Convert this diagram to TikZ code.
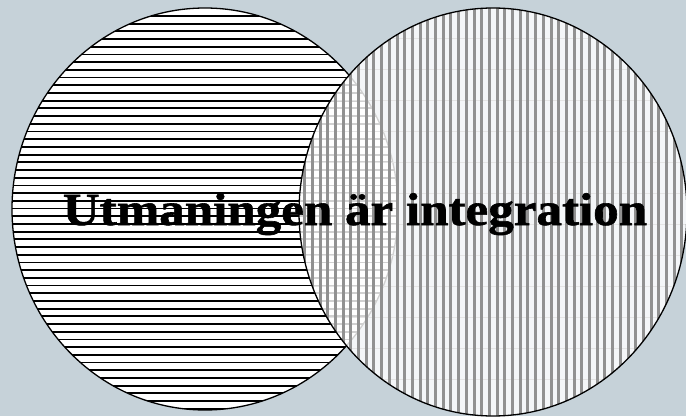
\documentclass[tikz,border=0pt]{standalone}
\usepackage{fontspec}
\setmainfont{Liberation Serif}
\newfontfamily\titlefont{Liberation Serif Bold}[FakeStretch=1.11, FakeBold=1.3]
\usetikzlibrary{positioning}
\definecolor{bgblue}{RGB}{198,210,217}
\definecolor{stripegray}{RGB}{145,145,145}

\begin{document}
\begin{tikzpicture}[x=1pt, y=1pt,
    outline/.style={draw=black, line width=1.3pt},
    hstripe/.style={black, line width=1.8pt},
    vstripe/.style={stripegray, line width=3pt},
    faintstripe/.style={black!10, line width=0.6pt},
    title/.style={font=\fontsize{46}{50}\titlefont, text=black, inner sep=0pt}
]
    % background
    \fill[bgblue] (0,0) rectangle (686,416);
    \useasboundingbox (0,0) rectangle (686,416);

    % left set, horizontal stripes
    \coordinate (leftc) at (205,207);
    \begin{scope}
        \clip (leftc) ellipse [x radius=193, y radius=201];
        \fill[white] (0,0) rectangle (686,416);
        \foreach \k in {0,...,52}
            \draw[hstripe] (0,{400-7.7*\k}) -- (410,{400-7.7*\k});
    \end{scope}
    \draw[outline] (leftc) ellipse [x radius=193, y radius=201];

    % right set, vertical stripes
    \coordinate (rightc) at (493,204);
    \begin{scope}
        \clip (rightc) ellipse [x radius=194, y radius=204];
        \fill[white, opacity=0.82] (0,0) rectangle (686,416);
        \foreach \k in {0,...,12}
            \draw[faintstripe] (290,{409-31*\k}) -- (690,{409-31*\k});
        \foreach \k in {0,...,51}
            \draw[vstripe] ({296.9+7.7*\k},0) -- ({296.9+7.7*\k},416);
    \end{scope}
    \draw[outline] (rightc) ellipse [x radius=194, y radius=204];

    \node[title, anchor=base] (challenge) at (355,191) {Utmaningen är integration};
\end{tikzpicture}
\end{document}
